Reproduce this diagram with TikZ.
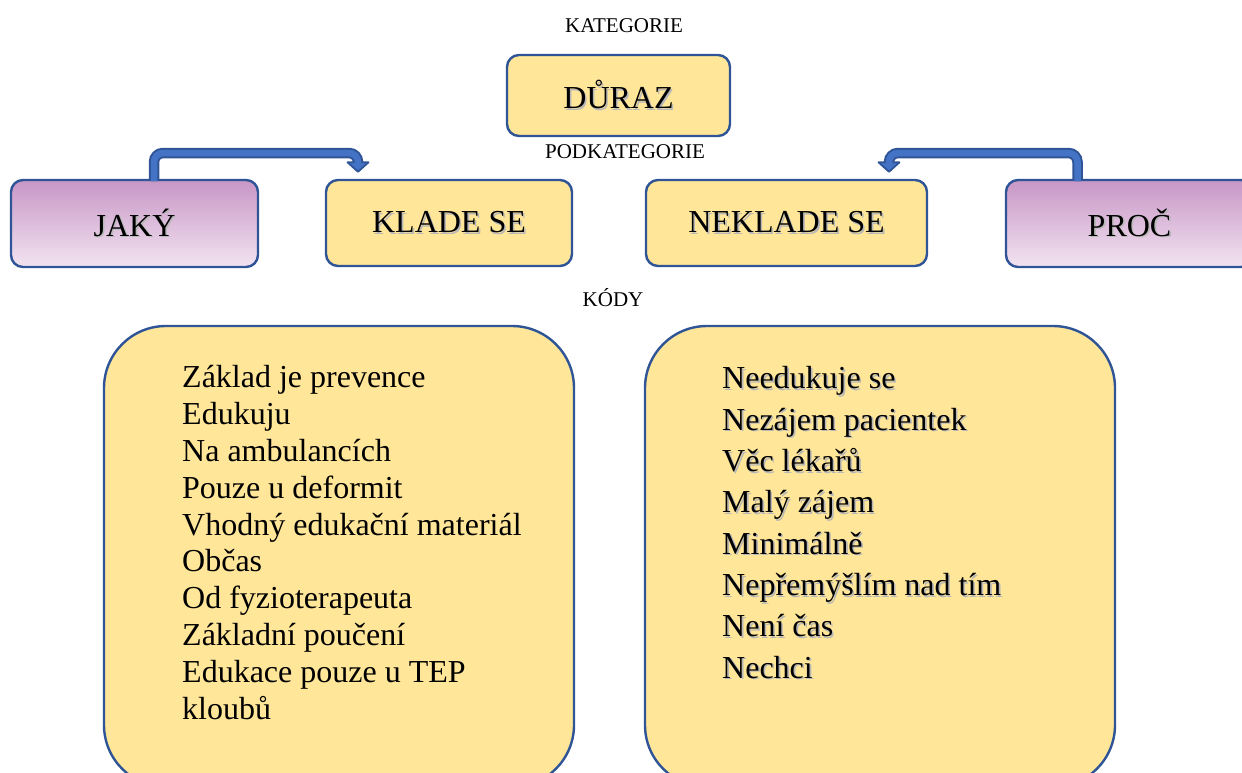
\documentclass[tikz,border=0pt]{standalone}
\usepackage{fontspec}
\setmainfont{Liberation Serif}
\usetikzlibrary{calc}

\definecolor{boxgold}{HTML}{FFE699}
\definecolor{boxline}{HTML}{2F5597}
\definecolor{violettop}{HTML}{C896C6}
\definecolor{violetbot}{HTML}{F2E4F1}
\definecolor{arrowblue}{HTML}{4472C4}

% text with a soft grey drop shadow to the lower right
\newcommand\shadowed[1]{\leavevmode\rlap{\hspace{1.6pt}\raisebox{-1.6pt}{\textcolor{black!28}{#1}}}#1}

\tikzset{
  heading/.style={font=\fontsize{21}{24}\selectfont, inner sep=0pt},
  catbox/.style={draw=boxline, line width=2.4pt, rounded corners=12pt, fill=boxgold,
    font=\fontsize{32}{36}\selectfont, inner sep=0pt},
  violetbox/.style={catbox, top color=violettop, bottom color=violetbot},
  codebox/.style={draw=boxline, line width=2.4pt, rounded corners=62pt, fill=boxgold,
    minimum width=470pt, minimum height=461pt, inner sep=0pt},
  listtext/.style={align=left, inner sep=0pt, anchor=north west},
  shaftout/.style={draw=boxline, line width=10.5pt, rounded corners=9pt},
  shaftin/.style={draw=arrowblue, line width=6.5pt, rounded corners=9pt},
  headtip/.style={fill=arrowblue, draw=boxline, line width=1.8pt, line join=round}
}

\begin{document}
\begin{tikzpicture}[x=1pt, y=-1pt]
\useasboundingbox (0,0) rectangle (1242,772);
\clip (0,0) rectangle (1242,772);

% category level
\node[heading] (kat) at (624,26) {KATEGORIE};
\node[catbox, minimum width=223pt, minimum height=81pt] (duraz) at (618.5,95.5) {\shadowed{DŮRAZ}};
\node[heading] (podkat) at (625,152) {PODKATEGORIE};

% subcategory level
\node[violetbox, minimum width=247pt, minimum height=87pt] (jaky) at (134.5,223.5) {\shadowed{JAKÝ}};
\node[catbox, minimum width=246pt, minimum height=86pt] (klade) at (449,223) {\shadowed{KLADE SE}};
\node[catbox, minimum width=281pt, minimum height=86pt] (neklade) at (786.5,223) {\shadowed{NEKLADE SE}};
\node[violetbox, minimum width=247pt, minimum height=87pt] (proc) at (1129.5,223.5) {\shadowed{PROČ}};

% codes level
\node[heading] (kody) at (613,298) {KÓDY};
\node[codebox] (codesL) at (339,556.5) {};
\node[codebox] (codesR) at (880,556.5) {};

\node[listtext, font=\fontsize{32}{36.8}\selectfont] (listL) at (182,365.5) {%
Základ je prevence\\
Edukuju\\
Na ambulancích\\
Pouze u deformit\\
Vhodný edukační materiál\\
Občas\\
Od fyzioterapeuta\\
Základní poučení\\
Edukace pouze u TEP\\
kloubů};

\node[listtext, font=\fontsize{32}{41.3}\selectfont] (listR) at (722,366.5) {%
\shadowed{Needukuje se}\\
\shadowed{Nezájem pacientek}\\
\shadowed{Věc lékařů}\\
\shadowed{Malý zájem}\\
\shadowed{Minimálně}\\
\shadowed{Nepřemýšlím nad tím}\\
\shadowed{Není čas}\\
\shadowed{Nechci}};

% bent block arrows
\coordinate (ja) at ([xshift=19.5pt,yshift=-1pt]jaky.north);
\coordinate (kl) at ([xshift=-91pt,yshift=7pt]klade.north);
\coordinate (jk) at (kl |- 0,153);
\coordinate (pr) at ([xshift=-52pt,yshift=-1pt]proc.north);
\coordinate (nk) at ([xshift=102.5pt,yshift=7pt]neklade.north);
\coordinate (pn) at (nk |- 0,153);

\draw[shaftout] (ja) |- (jk) -- ([yshift=8pt]kl);
\draw[headtip] ([xshift=-10.5pt,yshift=9.5pt]kl) -- ([xshift=10.5pt,yshift=9.5pt]kl) -- (kl) -- cycle;
\draw[shaftin] ([yshift=-1.5pt]ja) |- (jk) -- ([yshift=7.5pt]kl);

\draw[shaftout] (pr) |- (pn) -- ([yshift=8pt]nk);
\draw[headtip] ([xshift=-10.5pt,yshift=9.5pt]nk) -- ([xshift=10.5pt,yshift=9.5pt]nk) -- (nk) -- cycle;
\draw[shaftin] ([yshift=-1.5pt]pr) |- (pn) -- ([yshift=7.5pt]nk);
\end{tikzpicture}
\end{document}
